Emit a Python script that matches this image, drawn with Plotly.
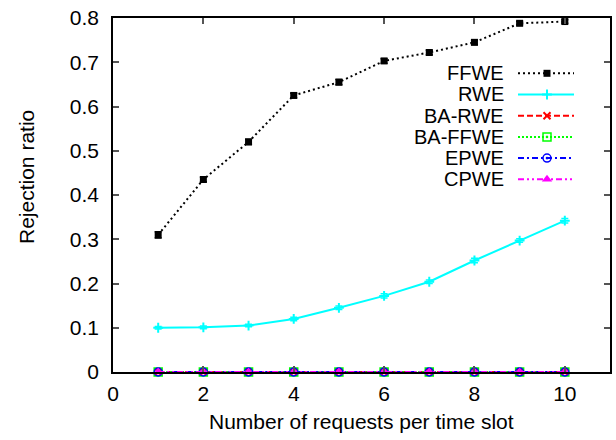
import plotly.graph_objects as go

# ---- data ----
requests = [1, 2, 3, 4, 5, 6, 7, 8, 9, 10]
ffwe = [0.310, 0.435, 0.520, 0.625, 0.655, 0.703, 0.722, 0.745, 0.788, 0.792]
ffwe_err = [0.007, 0.005, 0.006, 0.005, 0.006, 0.005, 0.005, 0.005, 0.004, 0.004]
rwe = [0.100, 0.101, 0.105, 0.120, 0.145, 0.172, 0.204, 0.252, 0.297, 0.342]
rwe_err = [0.003, 0.003, 0.003, 0.004, 0.004, 0.005, 0.004, 0.005, 0.004, 0.005]
ba_rwe = [0, 0, 0, 0, 0, 0, 0, 0, 0, 0]
ba_ffwe = [0, 0, 0, 0, 0, 0, 0, 0, 0, 0]
epwe = [0, 0, 0, 0, 0, 0, 0, 0, 0, 0]
cpwe = [0, 0, 0, 0, 0, 0, 0, 0, 0, 0]

series_names = ["FFWE", "RWE", "BA-RWE", "BA-FFWE", "EPWE", "CPWE"]
x_ticks = [0, 2, 4, 6, 8, 10]
y_ticks = [0, 0.1, 0.2, 0.3, 0.4, 0.5, 0.6, 0.7, 0.8]
y_tick_text = ["0", "0.1", "0.2", "0.3", "0.4", "0.5", "0.6", "0.7", "0.8"]

# ---- styles ----
FONT = "Liberation Sans, Arial, Helvetica, sans-serif"
FS = 21
LEG_FS = 20
styles = {
    "FFWE": dict(color="#000000", dash="2px,3px", symbol="square", size=7, mlw=0),
    "RWE": dict(color="#00FFFF", dash="solid", symbol="cross-thin-open", size=7, mlw=2),
    "BA-RWE": dict(color="#FF0000", dash="6px,3px", symbol="x-thin-open", size=7, mlw=2),
    "BA-FFWE": dict(color="#00FF00", dash="2px,2px", symbol="square-open-dot", size=8, mlw=1.5),
    "EPWE": dict(color="#0000FF", dash="6px,3px,2px,3px", symbol="circle-open-dot", size=8, mlw=1.5),
    "CPWE": dict(color="#FF00FF", dash="6px,3px,2px,3px,2px,3px", symbol="triangle-up", size=9, mlw=0),
}
values = {"FFWE": (ffwe, ffwe_err), "RWE": (rwe, rwe_err), "BA-RWE": (ba_rwe, None),
          "BA-FFWE": (ba_ffwe, None), "EPWE": (epwe, None), "CPWE": (cpwe, None)}

fig = go.Figure()
for name in series_names:
    st = styles[name]
    ys, err = values[name]
    fig.add_trace(go.Scatter(
        x=requests, y=ys, mode="lines+markers", name=name, showlegend=False,
        cliponaxis=False,
        line=dict(color=st["color"], width=2, dash=st["dash"]),
        marker=dict(symbol=st["symbol"], size=st["size"], color=st["color"],
                    line=dict(color=st["color"], width=st["mlw"])),
        error_y=dict(type="data", array=err, visible=err is not None,
                     color=st["color"], thickness=1.5, width=3.5),
    ))

# page body margin is removed by a post_script, so figure px == screen px
FW, FH = 616, 440
L, R, T, B = 113, 610, 18, 372
W, H = R - L, B - T


def px_x(sx):
    return (sx - L) / W


def px_y(sy):
    return (B - sy) / H


# ---- gnuplot-style legend (text left, sample right) ----
row0, step = 73.3, 21.2
text_right, line_x0, line_x1, mark_x = 505, 518, 574, 547
for i, name in enumerate(series_names):
    st = styles[name]
    yp = px_y(row0 + step * i)
    fig.add_annotation(x=px_x(text_right), y=yp, xref="paper", yref="paper",
                       text=name, showarrow=False, xanchor="right", yanchor="middle",
                       borderpad=0,
                       font=dict(family=FONT, size=LEG_FS, color="black"))
    fig.add_trace(go.Scatter(
        x=[px_x(line_x0), px_x(line_x1)], y=[yp, yp], mode="lines",
        xaxis="x2", yaxis="y2", showlegend=False, hoverinfo="skip",
        line=dict(color=st["color"], width=2, dash=st["dash"])))
    fig.add_trace(go.Scatter(
        x=[px_x(mark_x)], y=[yp], mode="markers", xaxis="x2", yaxis="y2",
        showlegend=False, hoverinfo="skip", cliponaxis=False,
        marker=dict(symbol=st["symbol"], size=st["size"], color=st["color"],
                    line=dict(color=st["color"], width=st["mlw"]))))

axis_common = dict(showline=True, linecolor="black", linewidth=1.5, mirror="ticks",
                   ticks="inside", ticklen=6, tickwidth=1.5, tickcolor="#555555",
                   showgrid=False, zeroline=False, ticklabeloverflow="allow",
                   automargin=False,
                   tickfont=dict(family=FONT, size=FS, color="black"))
fig.update_layout(
    width=FW, height=FH, autosize=False,
    margin=dict(l=L, r=FW - R, t=T, b=FH - B),
    paper_bgcolor="white", plot_bgcolor="white",
    showlegend=False,
    xaxis=dict(range=[0, 11], tickvals=x_ticks, ticklabelstandoff=2, **axis_common),
    yaxis=dict(range=[0, 0.8], tickvals=y_ticks, ticktext=y_tick_text,
               ticklabelstandoff=8, **axis_common),
    xaxis2=dict(overlaying="x", range=[0, 1], visible=False),
    yaxis2=dict(overlaying="y", range=[0, 1], visible=False),
)
fig.add_annotation(x=0.5, y=px_y(421), xref="paper", yref="paper",
                   text="Number of requests per time slot", showarrow=False,
                   xanchor="center", yanchor="middle",
                   font=dict(family=FONT, size=FS, color="black"))
fig.add_annotation(x=px_x(26), y=px_y(177), xref="paper", yref="paper",
                   text="Rejection ratio", showarrow=False, textangle=-90,
                   xanchor="center", yanchor="middle",
                   font=dict(family=FONT, size=FS, color="black"))

fig.write_html("out.html",
               config={"displayModeBar": False},
               post_script="document.body.style.margin='0';"
                           "document.body.style.overflow='hidden';")
